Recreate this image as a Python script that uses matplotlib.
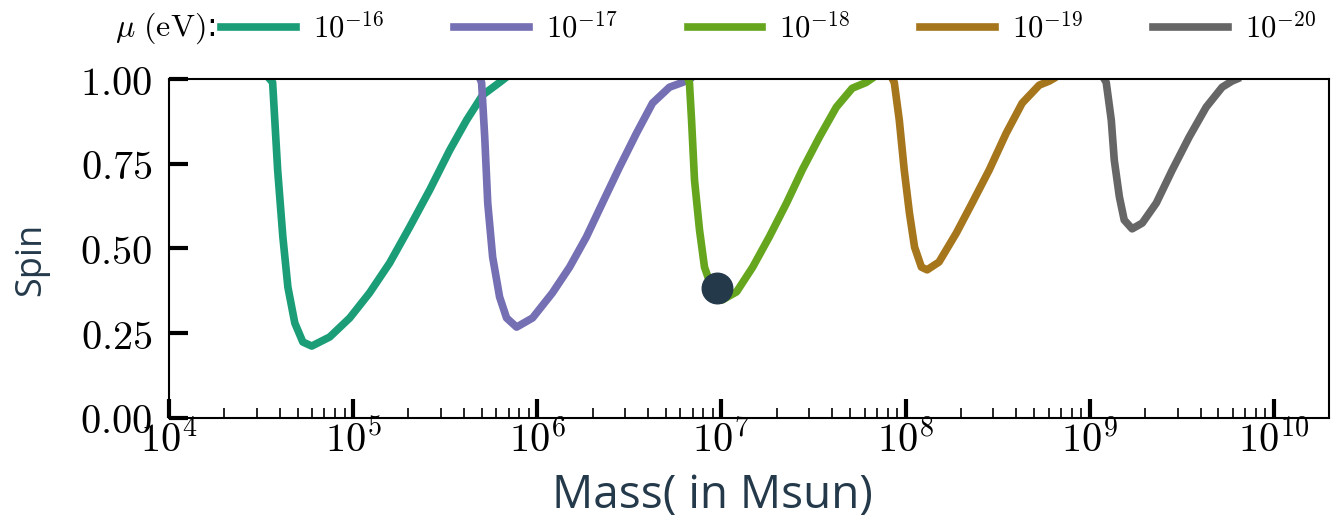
import math
import matplotlib
matplotlib.use('Agg')
import matplotlib.pyplot as plt
from matplotlib.ticker import FuncFormatter, FormatStrFormatter, LogLocator

plt.rcParams['mathtext.fontset'] = 'cm'

# hodnoty (hmotnost v Msun, spin)
labels = [r'$10^{-16}$', r'$10^{-17}$', r'$10^{-18}$', r'$10^{-19}$', r'$10^{-20}$']
colors = ['#1b9e77', '#7570b3', '#66a61e', '#a6761d', '#666666']

mass_16 = [3.53e4, 3.66e4, 3.90e4, 4.16e4, 4.43e4, 4.83e4, 5.34e4, 5.97e4, 7.48e4, 9.6e4,
           1.23e5, 1.58e5, 2.03e5, 2.61e5, 3.35e5, 4.14e5, 5.06e5, 6.25e5, 6.6e5]
spin_16 = [1.0, 0.99, 0.73, 0.534, 0.386, 0.28, 0.224, 0.212, 0.239, 0.295,
           0.369, 0.457, 0.563, 0.673, 0.79, 0.879, 0.953, 0.99, 1.0]

mass_17 = [4.9e5, 4.99e5, 5.19e5, 5.39e5, 5.73e5, 6.25e5, 6.82e5, 7.73e5, 9.44e5, 1.21e6,
           1.50e6, 1.85e6, 2.26e6, 2.80e6, 3.46e6, 4.23e6, 5.23e6, 6.15e6, 6.7e6]
spin_17 = [1.0, 0.99, 0.829, 0.634, 0.475, 0.357, 0.295, 0.268, 0.295, 0.369,
           0.445, 0.534, 0.634, 0.74, 0.84, 0.929, 0.976, 0.99, 1.0]

mass_18 = [6.6e6, 6.71e6, 6.89e6, 7.15e6, 7.61e6, 8.10e6, 8.84e6, 1.01e7, 1.21e7, 1.48e7,
           1.82e7, 2.26e7, 2.75e7, 3.41e7, 4.21e7, 5.14e7, 6.12e7, 6.5e7]
spin_18 = [1.0, 0.99, 0.879, 0.702, 0.555, 0.445, 0.386, 0.348, 0.372, 0.445,
           0.534, 0.634, 0.732, 0.829, 0.917, 0.973, 0.99, 1.0]

mass_19 = [8.5e7, 8.69e7, 9.25e7, 9.84e7, 1.05e8, 1.12e8, 1.22e8, 1.31e8, 1.52e8, 1.89e8,
           2.30e8, 2.85e8, 3.52e8, 4.30e8, 5.32e8, 6.03e8, 6.3e8]
spin_19 = [1.0, 0.99, 0.879, 0.732, 0.605, 0.504, 0.445, 0.437, 0.46, 0.546,
           0.634, 0.732, 0.84, 0.929, 0.982, 0.994, 1.0]

mass_20 = [1.2e9, 1.23e9, 1.31e9, 1.36e9, 1.45e9, 1.54e9, 1.70e9, 1.93e9, 2.30e9, 2.81e9,
           3.47e9, 4.29e9, 5.24e9, 5.93e9, 6.3e9]
spin_20 = [1.0, 0.99, 0.879, 0.761, 0.652, 0.584, 0.558, 0.575, 0.634, 0.732,
           0.829, 0.917, 0.976, 0.994, 1.0]

# zvýrazněný bod
point_mass = 9.5e6
point_spin = 0.383

masses = [mass_16, mass_17, mass_18, mass_19, mass_20]
spins = [spin_16, spin_17, spin_18, spin_19, spin_20]

label_color = '#243a4b'

fig = plt.figure(figsize=(13.4, 5.27), dpi=100)
ax = fig.add_axes([0.126, 0.207, 0.866, 0.643])

for m, s, c, lab in zip(masses, spins, colors, labels):
    ax.plot(m, s, color=c, lw=5.5, label=lab, solid_joinstyle='round')

ax.plot(point_mass, point_spin, 'o', color=label_color, markersize=22, zorder=5)

ax.set_xscale('log')
ax.set_xlim(1e4, 2e10)
ax.set_ylim(0, 1)

ax.xaxis.set_major_locator(LogLocator(base=10, numticks=10))
ax.xaxis.set_minor_locator(LogLocator(base=10, subs=range(2, 10), numticks=100))
ax.xaxis.set_major_formatter(FuncFormatter(lambda v, p: r'$10^{%d}$' % round(math.log10(v))))
ax.set_yticks([0, 0.25, 0.5, 0.75, 1.0])
ax.yaxis.set_major_formatter(FormatStrFormatter(r'$%.2f$'))

ax.tick_params(which='major', direction='in', length=14, width=3, labelsize=29, top=False, right=False)
ax.tick_params(which='minor', direction='in', length=7, width=1.2, top=False, right=False)
ax.tick_params(axis='x', which='major', pad=2)
ax.tick_params(axis='y', which='major', pad=12)
for sp in ax.spines.values():
    sp.set_linewidth(1.5)

fig.text(0.5315, 0.058, 'Mass( in Msun)', fontsize=33, family='Open Sans', color=label_color,
         ha='center', va='center')
fig.text(0.0235, 0.508, 'Spin', fontsize=26, family='Open Sans', color=label_color,
         ha='center', va='center', rotation=90)

fig.text(0.161, 0.947, r'$\mu\ \mathrm{(eV)}$:', fontsize=23, ha='right', va='center')
fig.legend(loc='center left', bbox_to_anchor=(0.165, 0.947), ncol=5, frameon=False,
           fontsize=22, handlelength=2.45, handletextpad=0.55, columnspacing=2.3,
           borderpad=0, borderaxespad=0)

fig.savefig('out.png', dpi=100)
